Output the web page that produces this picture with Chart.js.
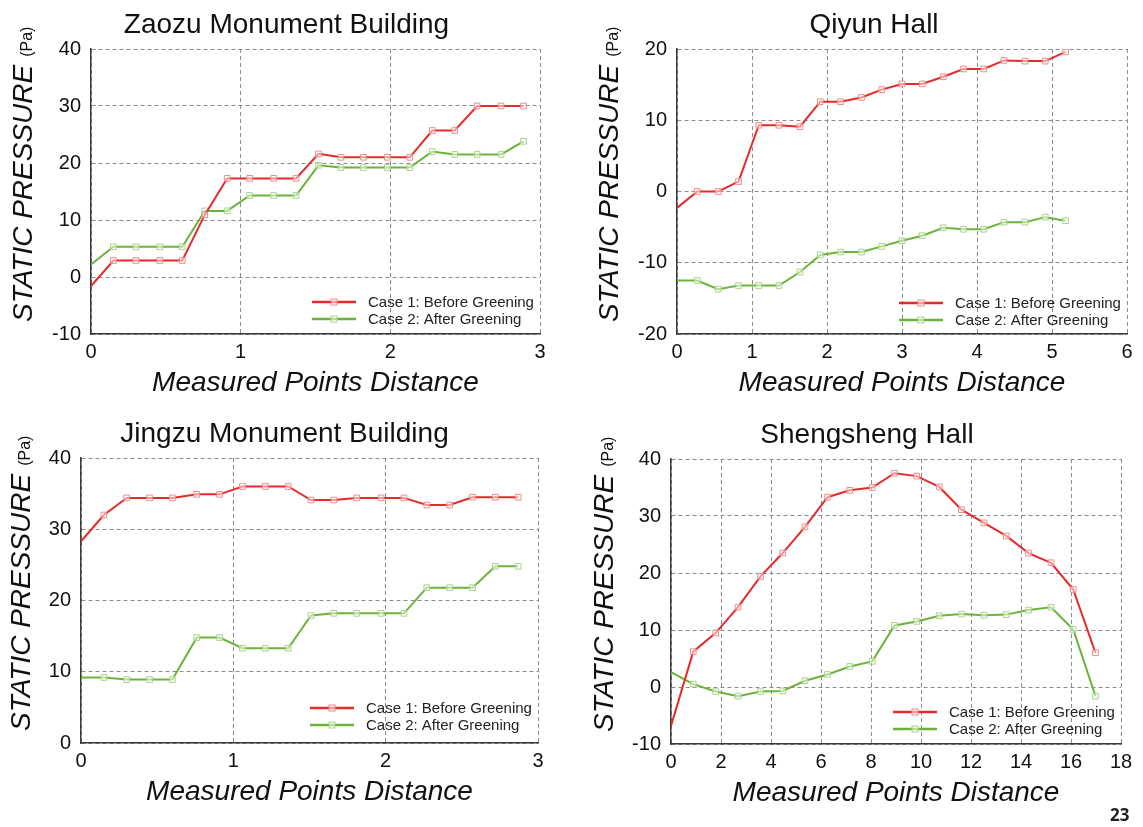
<!DOCTYPE html>
<html>
<head>
<meta charset="utf-8">
<script src="https://cdn.jsdelivr.net/npm/chart.js@4.4.1/dist/chart.umd.min.js"></script>
<style>
html,body{margin:0;padding:0;background:#fff;}
#wrap{position:relative;width:1143px;height:827px;overflow:hidden;background:#fff;}
#wrap canvas{position:absolute;}
#page{position:absolute;left:1110px;top:805px;font:bold 17px "Open Sans",sans-serif;line-height:20px;color:#222;}
</style>
</head>
<body>
<div id="wrap">
  <canvas id="c1" width="571" height="410" style="left:0;top:0"></canvas>
  <canvas id="c2" width="572" height="410" style="left:571px;top:0"></canvas>
  <canvas id="c3" width="571" height="417" style="left:0;top:410px"></canvas>
  <canvas id="c4" width="572" height="417" style="left:571px;top:410px"></canvas>
  <div id="page">23</div>
</div>
<script>
// ---------- data ----------
const seriesNames = ['Case 1: Before Greening', 'Case 2: After Greening'];
const yAxisTitle = 'STATIC PRESSURE';
const yAxisUnit = '(Pa)';
const xAxisTitle = 'Measured Points Distance';

const zaozuTitle = 'Zaozu Monument Building';
const zaozuX = [0,0.15,0.30,0.46,0.61,0.76,0.91,1.06,1.22,1.37,1.52,1.67,1.82,1.98,2.13,2.28,2.43,2.58,2.74,2.89];
const zaozuBefore = [-1.6,2.9,2.9,2.9,2.9,10.9,17.3,17.3,17.3,17.3,21.6,21.0,21.0,21.0,21.0,25.7,25.7,30.0,30.0,30.0];
const zaozuAfter = [2.2,5.3,5.3,5.3,5.3,11.6,11.6,14.3,14.3,14.3,19.6,19.2,19.2,19.2,19.2,22.0,21.5,21.5,21.5,23.8];
const zaozuXTicks = [0,1,2,3];
const zaozuYTicks = [-10,0,10,20,30,40];

const qiyunTitle = 'Qiyun Hall';
const qiyunX = [0,0.27,0.55,0.82,1.09,1.36,1.64,1.91,2.18,2.46,2.73,3.00,3.27,3.55,3.82,4.09,4.36,4.64,4.91,5.18];
const qiyunBefore = [-2.3,0,0,1.4,9.3,9.3,9.1,12.6,12.6,13.2,14.3,15.1,15.1,16.1,17.2,17.2,18.4,18.3,18.3,19.6];
const qiyunAfter = [-12.5,-12.5,-13.7,-13.2,-13.2,-13.2,-11.3,-8.9,-8.5,-8.5,-7.7,-6.9,-6.2,-5.1,-5.3,-5.3,-4.3,-4.3,-3.6,-4.1];
const qiyunXTicks = [0,1,2,3,4,5,6];
const qiyunYTicks = [-20,-10,0,10,20];

const jingzuTitle = 'Jingzu Monument Building';
const jingzuX = [0,0.15,0.30,0.45,0.60,0.76,0.91,1.06,1.21,1.36,1.51,1.66,1.81,1.97,2.12,2.27,2.42,2.57,2.72,2.87];
const jingzuBefore = [28.3,32.0,34.4,34.4,34.4,34.9,34.9,36.0,36.0,36.0,34.1,34.1,34.4,34.4,34.4,33.4,33.4,34.5,34.5,34.5];
const jingzuAfter = [9.2,9.2,8.9,8.9,8.9,14.8,14.8,13.3,13.3,13.3,17.9,18.2,18.2,18.2,18.2,21.8,21.8,21.8,24.8,24.8];
const jingzuXTicks = [0,1,2,3];
const jingzuYTicks = [0,10,20,30,40];

const shengTitle = 'Shengsheng Hall';
const shengX = [0,0.89,1.79,2.68,3.58,4.47,5.36,6.26,7.15,8.05,8.94,9.83,10.73,11.62,12.52,13.41,14.30,15.20,16.09,16.98];
const shengBefore = [-6.8,6.2,9.5,14.0,19.4,23.5,28.1,33.3,34.5,35.0,37.5,37.0,35.1,31.1,28.8,26.5,23.5,21.8,17.1,6.0];
const shengAfter = [2.6,0.5,-0.8,-1.6,-0.8,-0.7,1.1,2.2,3.6,4.5,10.8,11.5,12.5,12.8,12.6,12.7,13.5,14.0,10.1,-1.6];
const shengXTicks = [0,2,4,6,8,10,12,14,16,18];
const shengYTicks = [-10,0,10,20,30,40];

// ---------- styles ----------
const FONT = '"Liberation Sans", Arial, sans-serif';
const RED = '#e62a2a', RED_MK = '#f08a8a';
const GREEN = '#6cb33a', GREEN_MK = '#a6d486';
const GRID = '#8c8c8c', AXIS = '#3a3a3a', TXT = '#111';

const textPlugin = {
  id: 'texts',
  afterDraw(chart, args, o) {
    const {ctx, chartArea: a} = chart;
    const cx = (a.left + a.right) / 2;
    ctx.save();
    ctx.fillStyle = TXT;
    ctx.textBaseline = 'alphabetic';
    ctx.textAlign = 'center';
    ctx.font = '28px ' + FONT;
    ctx.fillText(o.title, cx + o.titleDx, a.top - 16);
    ctx.font = 'italic 28px ' + FONT;
    ctx.fillText(xAxisTitle, cx, a.bottom + 57);
    // legend
    chart.data.datasets.forEach((ds, i) => {
      const y = a.bottom - o.legDy + i * 17;
      const x0 = a.right - 228, x1 = a.right - 184;
      ctx.strokeStyle = ds.borderColor; ctx.lineWidth = 2.5;
      ctx.beginPath(); ctx.moveTo(x0, y); ctx.lineTo(x1, y); ctx.stroke();
      ctx.lineWidth = 1; ctx.strokeStyle = ds.pointBorderColor; ctx.fillStyle = 'rgba(255,255,255,0.5)';
      ctx.fillRect((x0 + x1) / 2 - 3, y - 3, 6, 6);
      ctx.strokeRect((x0 + x1) / 2 - 3, y - 3, 6, 6);
      ctx.fillStyle = '#222';
      ctx.textAlign = 'left'; ctx.textBaseline = 'middle';
      ctx.font = '15px ' + FONT;
      ctx.fillText(ds.label, a.right - 172, y + 1);
    });
    // y title
    ctx.fillStyle = TXT;
    ctx.textBaseline = 'alphabetic';
    ctx.translate(a.left - o.yTitleDx, a.bottom - 12);
    ctx.rotate(-Math.PI / 2);
    ctx.textAlign = 'left';
    ctx.font = 'italic 28px ' + FONT;
    ctx.fillText(yAxisTitle, 0, 0);
    const w = ctx.measureText(yAxisTitle).width;
    ctx.font = '16px ' + FONT;
    ctx.fillText(yAxisUnit, w + 8, 0);
    ctx.restore();
  }
};

function makeChart(id, c) {
  const mk = (x, y) => x.map((v, i) => ({x: v, y: y[i]}));
  const ds = (label, data, col, mkc) => ({
    label, data, borderColor: col, borderWidth: 2, tension: 0,
    pointStyle: 'rect', pointRadius: ctx => ctx.dataIndex === 0 ? 0 : 4,
    pointBorderColor: mkc, pointBackgroundColor: 'rgba(255,255,255,0.5)', pointBorderWidth: 1,
    fill: false
  });
  const axis = (ticks, fit, isX) => ({
    type: 'linear', min: ticks[0], max: ticks[ticks.length - 1],
    afterBuildTicks: s => { s.ticks = ticks.map(v => ({value: v})); },
    afterFit: fit,
    grid: {color: GRID, lineWidth: 1, drawTicks: false},
    border: {display: true, color: AXIS, width: 1.5, dash: [4, 3]},
    ticks: {font: {family: FONT, size: 20}, color: TXT, padding: isX ? 6 : 10, maxRotation: 0, autoSkip: false}
  });
  new Chart(document.getElementById(id), {
    type: 'line',
    data: {datasets: [
      ds(seriesNames[0], mk(c.x, c.before), RED, RED_MK),
      ds(seriesNames[1], mk(c.x, c.after), GREEN, GREEN_MK)
    ]},
    options: {
      animation: false, responsive: false, devicePixelRatio: 1,
      layout: {padding: {left: 0, top: c.top, right: c.right, bottom: 0}},
      plugins: {
        legend: {display: false}, tooltip: {enabled: false},
        texts: {title: c.title, titleDx: c.titleDx, yTitleDx: c.yTitleDx, legDy: c.legDy}
      },
      scales: {
        x: axis(c.xTicks, s => { s.height = c.xH; }, true),
        y: axis(c.yTicks, s => { s.width = c.yW; }, false)
      }
    },
    plugins: [textPlugin]
  });
}

makeChart('c1', {title: zaozuTitle, x: zaozuX, before: zaozuBefore, after: zaozuAfter, xTicks: zaozuXTicks, yTicks: zaozuYTicks,
  top: 49, right: 31, xH: 76, yW: 91, titleDx: -29, yTitleDx: 59, legDy: 32});
makeChart('c2', {title: qiyunTitle, x: qiyunX, before: qiyunBefore, after: qiyunAfter, xTicks: qiyunXTicks, yTicks: qiyunYTicks,
  top: 49, right: 16, xH: 76, yW: 106, titleDx: -28, yTitleDx: 59, legDy: 31});
makeChart('c3', {title: jingzuTitle, x: jingzuX, before: jingzuBefore, after: jingzuAfter, xTicks: jingzuXTicks, yTicks: jingzuYTicks,
  top: 48, right: 33, xH: 84, yW: 81, titleDx: -25, yTitleDx: 51, legDy: 35});
makeChart('c4', {title: shengTitle, x: shengX, before: shengBefore, after: shengAfter, xTicks: shengXTicks, yTicks: shengYTicks,
  top: 49, right: 22, xH: 83, yW: 100, titleDx: -29, yTitleDx: 58, legDy: 32});
</script>
</body>
</html>
